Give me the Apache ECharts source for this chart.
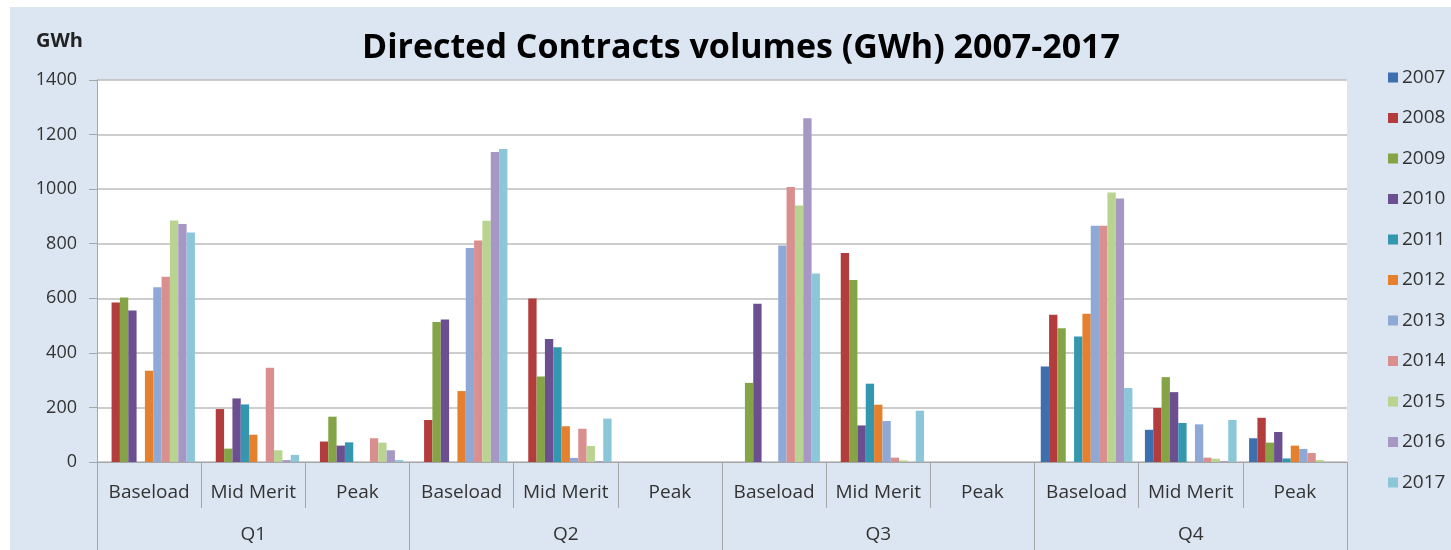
<!DOCTYPE html>
<html>
<head>
<meta charset="utf-8">
<script src="https://cdn.jsdelivr.net/npm/echarts@6/dist/echarts.min.js"></script>
<style>
html,body{margin:0;padding:0;background:#fff;}
#bg{position:absolute;left:10px;top:7px;width:1441px;height:543px;background:#dce6f2;}
#chart{position:absolute;left:0;top:0;width:1451px;height:550px;}
</style>
</head>
<body>
<div id="bg"></div>
<div id="chart"></div>
<script>
// Categories (contract type within each quarter)
const categories = ['Baseload','Mid Merit','Peak','Baseload','Mid Merit','Peak','Baseload','Mid Merit','Peak','Baseload','Mid Merit','Peak'];
const quarters = ['Q1','Q2','Q3','Q4'];
const years = ['2007','2008','2009','2010','2011','2012','2013','2014','2015','2016','2017'];
const yTicks = [0,200,400,600,800,1000,1200,1400];

// Values per year, in category order: Q1(B,M,P), Q2(B,M,P), Q3(B,M,P), Q4(B,M,P)
const v2007 = [0,0,0, 0,0,0, 0,0,0, 350,118,87];
const v2008 = [585,194,75, 154,599,0, 0,766,0, 540,198,162];
const v2009 = [603,49,166, 513,313,0, 290,667,0, 490,311,71];
const v2010 = [555,233,60, 522,451,0, 580,134,0, 0,256,110];
const v2011 = [0,211,72, 0,421,0, 0,287,0, 460,143,13];
const v2012 = [334,100,0, 260,131,0, 0,210,0, 543,0,60];
const v2013 = [640,0,0, 784,15,0, 793,150,0, 866,138,48];
const v2014 = [679,345,87, 812,122,0, 1008,16,0, 866,16,33];
const v2015 = [885,43,71, 884,59,0, 940,6,0, 988,12,7];
const v2016 = [872,7,43, 1136,3,0, 1260,0,0, 966,3,0];
const v2017 = [841,26,7, 1147,159,0, 691,188,0, 271,154,0];

const seriesValues = [v2007,v2008,v2009,v2010,v2011,v2012,v2013,v2014,v2015,v2016,v2017];
const colors = ['#3d6fae','#b23d3c','#84a446','#6b4f91','#3397b0','#e5802e','#8fa9d7','#d98f8e','#b9d391','#a797c4','#8cc6d9'];

const chart = echarts.init(document.getElementById('chart'));
const font = "'Open Sans', sans-serif";
chart.setOption({
  animation: false,
  backgroundColor: 'transparent',
  color: colors,
  title: [
    {text: 'Directed Contracts volumes (GWh) 2007-2017', left: 736, top: 26, textAlign: 'center',
     textStyle: {fontFamily: font, fontSize: 34, fontWeight: 'bold', color: '#000'}},
    {text: 'GWh', left: 31, top: 26, textStyle: {fontFamily: font, fontSize: 20, fontWeight: 'bold', color: '#222'}}
  ],
  legend: {
    orient: 'vertical', left: 1383, top: 63, itemGap: 21.5, itemWidth: 10, itemHeight: 10,
    icon: 'rect', data: years,
    textStyle: {fontFamily: font, fontSize: 19, color: '#333', padding: [0,0,0,-1]}
  },
  grid: {left: 97, right: 104, top: 80, bottom: 88, show: true, backgroundColor: '#fff', borderWidth: 0},
  xAxis: [
    {type: 'category', data: categories, position: 'bottom',
     axisLine: {show: true, lineStyle: {color: '#a6a6a6', width: 1}},
     axisTick: {show: true, interval: 0, length: 46, lineStyle: {color: '#a6a6a6'}},
     axisLabel: {interval: 0, margin: 21, fontFamily: font, fontSize: 19, color: '#333'}},
    {type: 'category', data: quarters, position: 'bottom',
     axisLine: {show: false},
     axisTick: {show: true, interval: 0, length: 90, lineStyle: {color: '#a6a6a6'}},
     axisLabel: {interval: 0, margin: 63, fontFamily: font, fontSize: 19, color: '#333'}}
  ],
  yAxis: {
    type: 'value', min: yTicks[0], max: yTicks[yTicks.length-1], interval: 200,
    axisLine: {show: true, lineStyle: {color: '#a6a6a6'}},
    axisTick: {show: true, length: 8, lineStyle: {color: '#a6a6a6'}},
    axisLabel: {margin: 20, fontFamily: font, fontSize: 18, color: '#333', formatter: v => String(v)},
    splitLine: {lineStyle: {color: '#bdbdbd', width: 1.5}}
  },
  series: years.map((y, i) => ({
    name: y, type: 'bar', xAxisIndex: 0, data: seriesValues[i],
    barGap: '0%', barCategoryGap: '12%'
  }))
});
</script>
</body>
</html>
